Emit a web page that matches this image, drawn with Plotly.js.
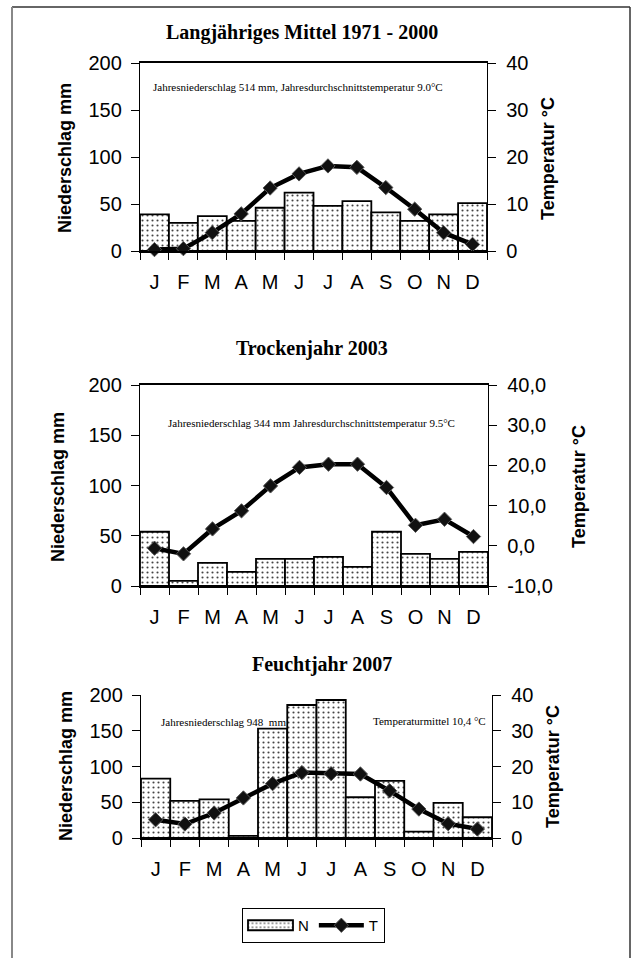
<!DOCTYPE html>
<html>
<head>
<meta charset="utf-8">
<script src="https://cdn.plot.ly/plotly-3.0.1.min.js"></script>
<style>html,body{margin:0;padding:0;background:#fff;}#chart{width:632px;height:958px;}</style>
</head>
<body>
<div id="chart"></div>
<script>
// ---- data ----
const monthLabels = ['J','F','M','A','M','J','J','A','S','O','N','D'];
const precipMean = [39, 30, 37, 32, 46, 62, 48, 53, 41, 32, 39, 51];
const tempMean = [0.3, 0.5, 3.9, 7.9, 13.4, 16.4, 18.1, 17.8, 13.5, 8.9, 3.9, 1.4];
const precip2003 = [54, 5, 23, 14, 27, 27, 29, 19, 54, 32, 27, 34];
const temp2003 = [-0.6, -2.0, 4.2, 8.7, 14.9, 19.5, 20.3, 20.3, 14.5, 5.1, 6.6, 2.3];
const precip2007 = [83, 52, 54, 3, 153, 186, 193, 57, 80, 9, 49, 29];
const temp2007 = [5.1, 3.9, 7.0, 11.2, 15.2, 18.3, 18.0, 17.9, 13.2, 8.1, 4.0, 2.5];
const titles = ['Langjähriges Mittel 1971 - 2000', 'Trockenjahr 2003', 'Feuchtjahr 2007'];
const tempTicks2003 = [-10, 0, 10, 20, 30, 40];
const tempTickText2003 = ['-10,0', '0,0', '10,0', '20,0', '30,0', '40,0'];
const legendNames = ['N', 'T'];

// ---- helpers ----
const W = 632, H = 958;
const px = v => v / W;
const py = v => 1 - v / H;
const xIdx = monthLabels.map((_, i) => i);
const bounds = monthLabels.map((_, i) => i - 0.5).concat([monthLabels.length - 0.5]);

const barStyle = {
  color: 'white',
  line: {color: '#000', width: 1.8},
  pattern: {shape: '.', size: 5, solidity: 0.14, fgcolor: '#444', bgcolor: 'white', fillmode: 'replace'}
};
const lineStyle = {color: '#000', width: 4.5};
const markerStyle = {symbol: 'diamond', size: 11, color: '#111', line: {color: '#555', width: 1}};

function barTrace(y, xa, ya, show) {
  return {type: 'bar', x: xIdx, y: y, xaxis: xa, yaxis: ya, marker: barStyle,
    name: legendNames[0], showlegend: show, width: 1, hoverinfo: 'skip'};
}
function lineTrace(y, xa, ya, show) {
  return {type: 'scatter', mode: 'lines+markers', x: xIdx, y: y, xaxis: xa, yaxis: ya,
    line: lineStyle, marker: markerStyle, name: legendNames[1], showlegend: show, hoverinfo: 'skip', cliponaxis: false};
}

const data = [
  barTrace(precipMean, 'x', 'y', true),
  lineTrace(tempMean, 'x', 'y2', true),
  barTrace(precip2003, 'x2', 'y3', false),
  lineTrace(temp2003, 'x2', 'y4', false),
  barTrace(precip2007, 'x3', 'y5', false),
  lineTrace(temp2007, 'x3', 'y6', false)
];

const tickFont = {family: 'Liberation Sans, Arial, sans-serif', size: 20, color: '#000'};

function xAxis(dom, anchor, mirror) {
  return {domain: dom, anchor: anchor, range: [-0.5, 11.5], tickmode: 'array', tickvals: xIdx, ticktext: monthLabels,
    ticks: '', ticklabelstandoff: 12, showline: true, linecolor: '#000', linewidth: 1.6, mirror: mirror, showgrid: false, zeroline: false,
    tickfont: tickFont, fixedrange: true,
    minor: {tickmode: 'array', tickvals: bounds, ticks: 'outside', ticklen: 7, tickwidth: 1, tickcolor: '#000', showgrid: false}};
}
function yLeft(dom, anchor) {
  return {domain: dom, anchor: anchor, range: [0, 200], tickmode: 'linear', tick0: 0, dtick: 50,
    ticks: 'outside', ticklen: 8, tickwidth: 1, tickcolor: '#000', ticklabelstandoff: 5, showline: true, linecolor: '#000', linewidth: 1.2,
    showgrid: false, zeroline: false, tickfont: tickFont, fixedrange: true};
}
function yRight(overlay, anchor, range, extra) {
  return Object.assign({overlaying: overlay, anchor: anchor, side: 'right', range: range, tickmode: 'linear', tick0: 0, dtick: 10,
    ticks: 'outside', ticklen: 8, tickwidth: 1, tickcolor: '#000', ticklabelstandoff: 6, showline: true, linecolor: '#000', linewidth: 1.2,
    showgrid: false, zeroline: false, tickfont: tickFont, fixedrange: true}, extra || {});
}

const serifBold = {family: 'Liberation Serif, Times New Roman, serif', size: 20, color: '#000'};
const axTitleFont = {family: 'Liberation Sans, Arial, sans-serif', size: 18, color: '#000'};
const noteFont = {family: 'Liberation Serif, Times New Roman, serif', size: 11, color: '#000'};

function ann(text, x, y, font, extra) {
  return Object.assign({text: text, x: px(x), y: py(y), xref: 'paper', yref: 'paper', showarrow: false,
    xanchor: 'center', yanchor: 'middle', font: font}, extra || {});
}

const annotations = [
  ann('<b>' + titles[0] + '</b>', 302, 33, serifBold),
  ann('<b>' + titles[1] + '</b>', 312, 348, serifBold),
  ann('<b>' + titles[2] + '</b>', 322, 664, serifBold),
  ann('<b>Niederschlag mm</b>', 65, 158, axTitleFont, {textangle: -90}),
  ann('<b>Niederschlag mm</b>', 58, 487, axTitleFont, {textangle: -90}),
  ann('<b>Niederschlag mm</b>', 66, 766, axTitleFont, {textangle: -90}),
  ann('<b>Temperatur °C</b>', 548, 159, axTitleFont, {textangle: -90}),
  ann('<b>Temperatur °C</b>', 579, 487, axTitleFont, {textangle: -90}),
  ann('<b>Temperatur °C</b>', 553, 767, axTitleFont, {textangle: -90}),
  ann('Jahresniederschlag 514 mm, Jahresdurchschnittstemperatur 9.0°C', 151, 87, noteFont, {xanchor: 'left'}),
  ann('Jahresniederschlag 344 mm Jahresdurchschnittstemperatur 9.5°C', 166, 423, noteFont, {xanchor: 'left'}),
  ann('Jahresniederschlag 948\u00a0 mm', 159, 722, noteFont, {xanchor: 'left'}),
  ann('Temperaturmittel 10,4 °C', 488, 721, noteFont, {xanchor: 'right'})
];

const shapes = [
  {type: 'line', xref: 'paper', yref: 'paper', x0: px(12), x1: px(630), y0: py(7), y1: py(7), line: {color: '#333', width: 1.5}},
  {type: 'line', xref: 'paper', yref: 'paper', x0: px(12), x1: px(12), y0: py(7), y1: py(960), line: {color: '#888', width: 2}},
  {type: 'line', xref: 'paper', yref: 'paper', x0: px(630), x1: px(630), y0: py(7), y1: py(960), line: {color: '#333', width: 1.5}}
];

const layout = {
  width: W, height: H, margin: {l: 0, r: 0, t: 0, b: 0},
  paper_bgcolor: 'white', plot_bgcolor: 'white',
  bargap: 0, barmode: 'overlay',
  xaxis: xAxis([px(140), px(487)], 'y', true),
  yaxis: yLeft([py(251), py(63)], 'x'),
  yaxis2: yRight('y', 'x', [0, 40]),
  xaxis2: xAxis([px(140), px(488)], 'y3', true),
  yaxis3: yLeft([py(586), py(385)], 'x2'),
  yaxis4: yRight('y3', 'x2', [-10, 40], {tickmode: 'array', tickvals: tempTicks2003, ticktext: tempTickText2003}),
  xaxis3: xAxis([px(141), px(492)], 'y5', false),
  yaxis5: yLeft([py(838), py(695)], 'x3'),
  yaxis6: yRight('y5', 'x3', [0, 40]),
  showlegend: true,
  legend: {orientation: 'h', x: px(242), y: py(908), xanchor: 'left', yanchor: 'top', itemwidth: 45,
    bordercolor: '#000', borderwidth: 1, bgcolor: 'white',
    font: {family: 'Liberation Sans, Arial, sans-serif', size: 15, color: '#000'}},
  annotations: annotations,
  shapes: shapes
};

Plotly.newPlot('chart', data, layout, {staticPlot: true, displayModeBar: false}).then(() => {
  // widen the bar swatch in the legend to a flat rectangle like the reference
  const items = document.querySelectorAll('g.legend g.traces');
  if (items.length) {
    const sw = items[0].querySelector('g.legendpoints path');
    if (sw) sw.setAttribute('d', 'M22.5,5H-22.5V-5H22.5Z');
  }
});
</script>
</body>
</html>
